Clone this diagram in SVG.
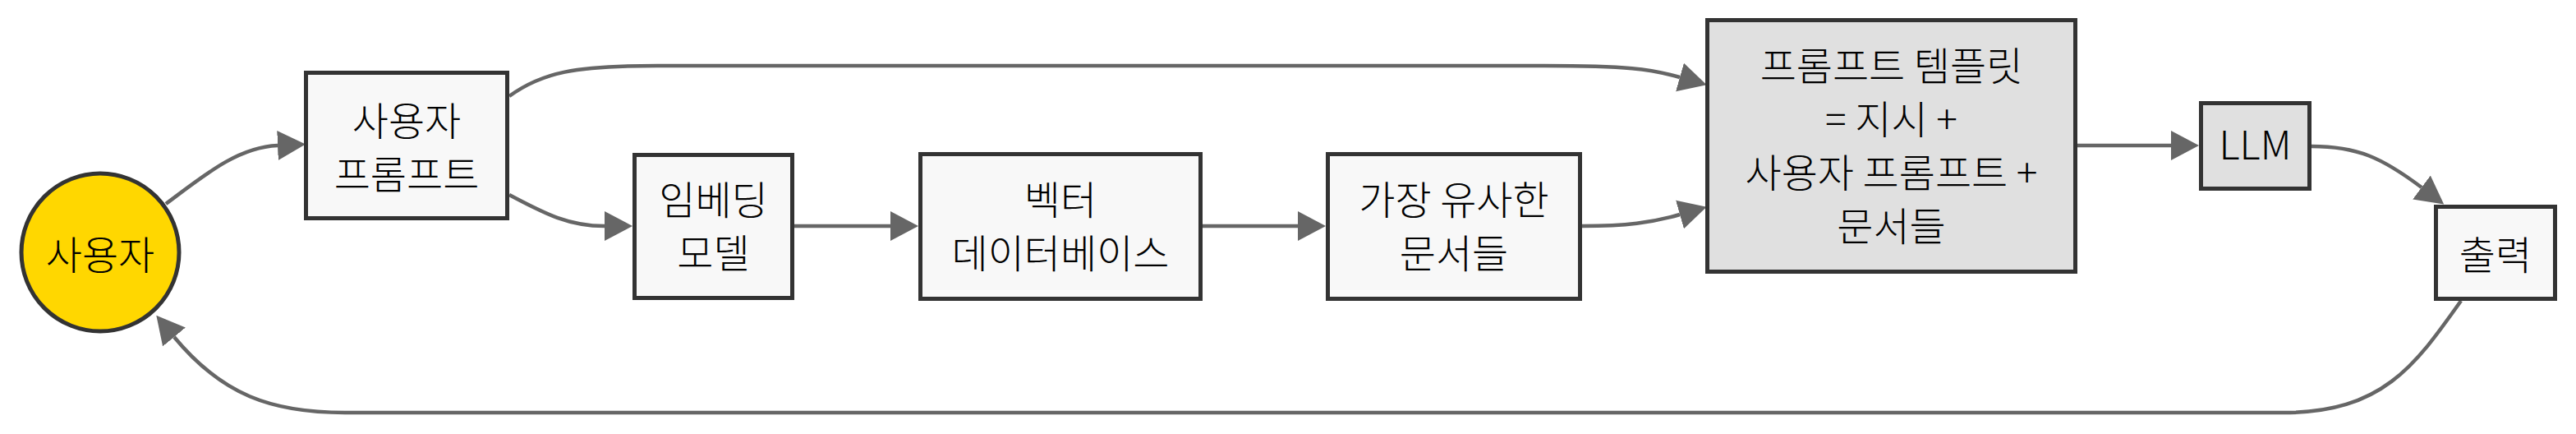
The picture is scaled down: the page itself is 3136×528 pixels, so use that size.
<svg xmlns="http://www.w3.org/2000/svg" width="3136" height="528" viewBox="0 0 3136 528">
<style>
  .node rect { fill: #F8F8F8; stroke: #333333; stroke-width: 5; }
  .node rect.dark { fill: #E0E0E0; }
  .node circle { fill: #FFD700; stroke: #333333; stroke-width: 5; }
  .node text { font-family: "Noto Sans CJK KR", "Noto Sans", sans-serif; font-size: 48px; font-weight: 300; fill: #000000; text-anchor: middle; }
  .edges path { fill: none; stroke: #666666; stroke-width: 4.5; marker-end: url(#arrow); }
</style>
<defs>
  <marker id="arrow" markerUnits="userSpaceOnUse" markerWidth="36" markerHeight="38" refX="0" refY="18" orient="auto" viewBox="0 0 36 36">
    <path d="M0,0 L34,18 L0,36 Z" fill="#666666"/>
  </marker>
</defs>
<rect width="3136" height="528" fill="#FFFFFF"/>
<g class="edges" id="connectors">
  <path d="M202,248 C250,212 290,179 338,177"/>
  <path d="M620,117 C660,88 700,80 800,80 L1880,80 C1980,80 2010,84 2045,94"/>
  <path d="M620,237 C660,258 690,275 736,275"/>
  <path d="M967,275 L1084,275"/>
  <path d="M1464,275 L1580,275"/>
  <path d="M1926,275 C1980,275 2010,271 2045,261"/>
  <path d="M2529,177 L2643,177"/>
  <path d="M2814,178 C2870,178 2900,192 2948,228"/>
  <path d="M2996,366 C2940,445 2900,502 2780,502 L420,502 C330,502 270,480 212,410"/>
</g>
<g class="node" id="user">
  <circle cx="122" cy="307" r="96"/>
  <text x="122" y="328">사용자</text>
</g>
<g class="node" id="user-prompt">
  <rect x="372.5" y="88.5" width="245" height="177"/>
  <text x="495" y="165">사용자</text>
  <text x="495" y="230">프롬프트</text>
</g>
<g class="node" id="embedding">
  <rect x="772.5" y="188.5" width="192" height="174"/>
  <text x="868.5" y="261">임베딩</text>
  <text x="868.5" y="326">모델</text>
</g>
<g class="node" id="vectordb">
  <rect x="1120.5" y="187.5" width="341" height="176"/>
  <text x="1291" y="261">벡터</text>
  <text x="1291" y="326">데이터베이스</text>
</g>
<g class="node" id="docs">
  <rect x="1616.5" y="187.5" width="307" height="176"/>
  <text x="1770" y="261">가장 유사한</text>
  <text x="1770" y="326">문서들</text>
</g>
<g class="node" id="template">
  <rect class="dark" x="2078.5" y="24.5" width="448" height="306"/>
  <text x="2302.5" y="98">프롬프트 템플릿</text>
  <text x="2302.5" y="163">= 지시 +</text>
  <text x="2302.5" y="228">사용자 프롬프트 +</text>
  <text x="2302.5" y="293">문서들</text>
</g>
<g class="node" id="llm">
  <rect class="dark" x="2679.5" y="125.5" width="132" height="104"/>
  <text x="2745.5" y="194">LLM</text>
</g>
<g class="node" id="output">
  <rect x="2965.5" y="251.5" width="145" height="112"/>
  <text x="3038" y="328">출력</text>
</g>
</svg>
